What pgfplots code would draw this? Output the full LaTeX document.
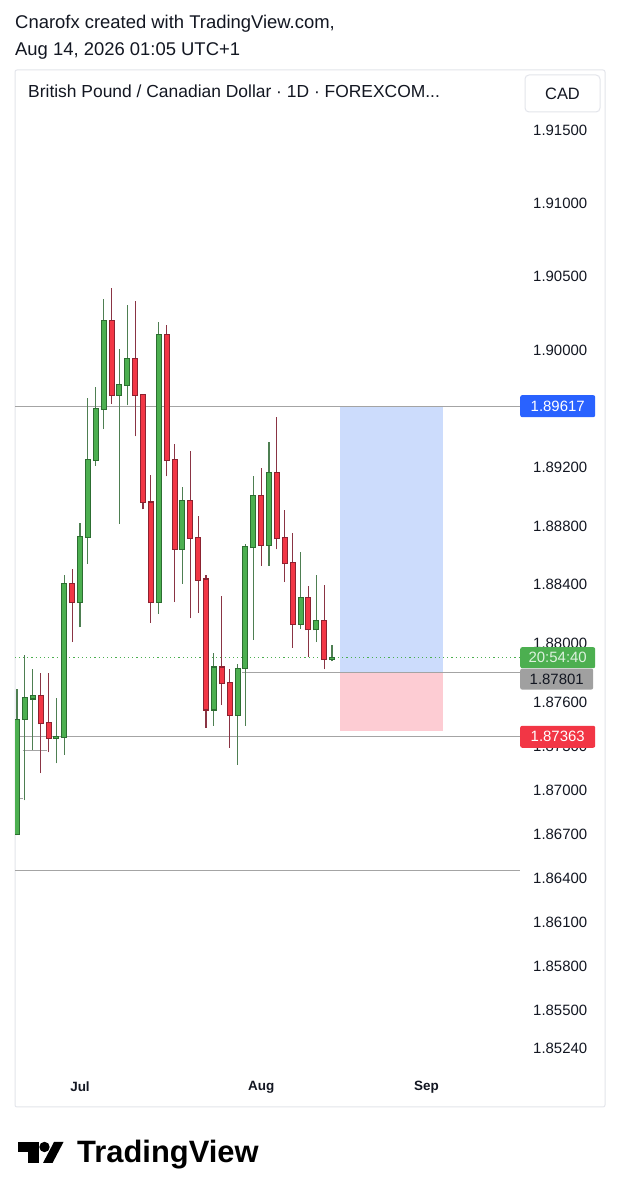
\documentclass[border=0pt]{standalone}
\usepackage{fontspec}
\setmainfont{Liberation Sans}
\usepackage{pgfplots}
\usepackage{pgfplotstable}
\pgfplotsset{compat=1.18}

\definecolor{upfill}{HTML}{4CAF50}
\definecolor{upline}{HTML}{2C6E31}
\definecolor{upwick}{HTML}{4E7F52}
\definecolor{dnfill}{HTML}{F23645}
\definecolor{dnline}{HTML}{8C2230}
\definecolor{dnwick}{HTML}{8A3444}
\definecolor{tvtext}{HTML}{131722}
\definecolor{lvl}{HTML}{A4A4A4}
\definecolor{tpblue}{HTML}{2962FF}
\definecolor{tpfill}{HTML}{CCDCFC}
\definecolor{slfill}{HTML}{FDCCD3}
\definecolor{slred}{HTML}{F23645}
\definecolor{frm}{HTML}{E3E5EB}
\definecolor{cdgray}{HTML}{A0A0A0}
\definecolor{cdtext}{HTML}{DDF2DE}

\newcommand\lblfont{\fontsize{15}{15}\selectfont}

\pgfplotstableread{
x o h l c
0 1.86700 1.87686 1.86690 1.87480
1 1.87487 1.87922 1.86929 1.87624
2 1.87624 1.87827 1.87276 1.87644
5 1.87356 1.87624 1.87182 1.87363
6 1.87363 1.88468 1.87239 1.88406
8 1.88281 1.88820 1.88108 1.88728
9 1.88728 1.89672 1.88542 1.89250
10 1.89250 1.89746 1.89212 1.89597
11 1.89597 1.90349 1.89461 1.90200
13 1.89696 1.90007 1.88815 1.89763
14 1.89763 1.90310 1.89622 1.89937
18 1.88281 1.90193 1.88200 1.90101
21 1.88646 1.89068 1.88406 1.88969
25 1.87549 1.87934 1.87437 1.87835
28 1.87512 1.87860 1.87171 1.87827
29 1.87835 1.88679 1.87437 1.88654
30 1.88654 1.89138 1.88026 1.89006
32 1.88671 1.89374 1.88530 1.89163
36 1.88133 1.88622 1.88101 1.88306
38 1.88095 1.88463 1.88008 1.88150
40 1.87892 1.87991 1.87877 1.87902
}\upbars

\pgfplotstableread{
x o h l c
3 1.87644 1.87797 1.87115 1.87455
4 1.87455 1.87797 1.87256 1.87356
7 1.88406 1.88505 1.88008 1.88281
12 1.90200 1.90424 1.89634 1.89696
15 1.89937 1.90334 1.89411 1.89696
16 1.89696 1.89700 1.88914 1.88964
17 1.88960 1.89150 1.88140 1.88281
19 1.90101 1.90168 1.89138 1.89250
20 1.89250 1.89361 1.88281 1.88646
22 1.88969 1.89312 1.88170 1.88721
23 1.88721 1.88865 1.88207 1.88435
24 1.88435 1.88468 1.87425 1.87549
26 1.87835 1.88324 1.87579 1.87728
27 1.87728 1.87822 1.87288 1.87512
31 1.89006 1.89193 1.88530 1.88671
33 1.89163 1.89540 1.88641 1.88716
34 1.88716 1.88907 1.88418 1.88547
35 1.88547 1.88753 1.87971 1.88133
37 1.88306 1.88388 1.87909 1.88095
39 1.88150 1.88398 1.87822 1.87892
}\dnbars

\pgfplotsset{
  wick/.style={draw=none, mark=none, forget plot,
    error bars/y dir=plus, error bars/y explicit, error bars/error mark=none,
    error bars/error bar style={line width=1.1bp, draw=#1, solid}},
  body/.style 2 args={draw=none, mark=none, forget plot,
    error bars/y dir=plus, error bars/y explicit, error bars/error mark=none,
    error bars/error bar style={line width=#2, draw=#1, solid}},
}

\begin{document}
\begin{tikzpicture}[x=1bp,y=1bp]
\fill[white] (0,0) rectangle (620,1200);
\path[use as bounding box] (0,0) rectangle (620,1200);

% header texts
\node[anchor=base west, inner sep=0pt, font=\fontsize{18.5}{18.5}\selectfont, text=tvtext] at (15,1171) {Cnarofx created with TradingView.com,};
\node[anchor=base west, inner sep=0pt, font=\fontsize{18.5}{18.5}\selectfont, text=tvtext] at (15,1144) {Aug 14, 2026 01:05 UTC+1};

% chart frame
\draw[frm, line width=1bp, rounded corners=2bp] (15,93) rectangle (605,1130);

\begin{axis}[
  at={(15bp,130bp)}, anchor=south west,
  width=505bp, height=1000bp, scale only axis,
  xmin=-0.254, xmax=63.87, ymin=1.85091, ymax=1.91909,
  axis line style={draw=none},
  major tick length=0pt,
  xtick={8,31,52}, xticklabels={Jul,Aug,Sep},
  ytick={1.915,1.91,1.905,1.9,1.892,1.888,1.884,1.88,1.876,1.873,1.87,1.867,1.864,1.861,1.858,1.855,1.8524},
  yticklabels={1.91500,1.91000,1.90500,1.90000,1.89200,1.88800,1.88400,1.88000,1.87600,1.87300,1.87000,1.86700,1.86400,1.86100,1.85800,1.85500,1.85240},
  yticklabel pos=right,
  yticklabel style={anchor=west, inner sep=0pt, xshift=13bp, font=\lblfont, text=tvtext},
  xticklabel style={anchor=center, inner sep=0pt, yshift=-17bp, font=\fontsize{13.5}{13.5}\selectfont\bfseries, text=tvtext},
  scaled y ticks=false,
]
% position boxes
\addplot[draw=none, fill=tpfill, forget plot] coordinates {(41,1.87801) (54.1,1.87801) (54.1,1.89617) (41,1.89617)};
\addplot[draw=none, fill=slfill, forget plot] coordinates {(41,1.87401) (54.1,1.87401) (54.1,1.87801) (41,1.87801)};
% horizontal levels
\addplot[lvl, line width=1bp, forget plot] coordinates {(-0.3,1.89617) (63.87,1.89617)};
\addplot[lvl, line width=1bp, forget plot] coordinates {(-0.3,1.87363) (63.87,1.87363)};
\addplot[lvl, line width=1bp, forget plot] coordinates {(-0.3,1.86450) (63.87,1.86450)};
\addplot[lvl, line width=1.4bp, forget plot] coordinates {(28.6,1.87801) (63.87,1.87801)};
\addplot[lvl, line width=0.8bp, forget plot] coordinates {(0.7,1.87273) (3.8,1.87273)};
\addplot[lvl, line width=0.8bp, forget plot] coordinates {(0,1.86946) (0.8,1.86946)};
% current price dotted line
\addplot[upfill, line width=1bp, dash pattern=on 1.2bp off 3bp, forget plot] coordinates {(-0.3,1.87902) (63.87,1.87902)};

% wicks
\addplot[wick=upwick] table[x=x, y=l, y error plus expr=\thisrow{h}-\thisrow{l}] {\upbars};
\addplot[wick=dnwick] table[x=x, y=l, y error plus expr=\thisrow{h}-\thisrow{l}] {\dnbars};
% bodies: outline
\addplot[body={upline}{6bp}] table[x=x, y expr=\thisrow{o}-0.00007, y error plus expr=\thisrow{c}-\thisrow{o}+0.00014] {\upbars};
\addplot[body={dnline}{6bp}] table[x=x, y expr=\thisrow{c}-0.00007, y error plus expr=\thisrow{o}-\thisrow{c}+0.00014] {\dnbars};
% bodies: fill
\addplot[body={upfill}{4bp}] table[x=x, y=o, y error plus expr=\thisrow{c}-\thisrow{o}] {\upbars};
\addplot[body={dnfill}{4bp}] table[x=x, y=c, y error plus expr=\thisrow{o}-\thisrow{c}] {\dnbars};

\coordinate (tp) at (axis cs:63.87,1.89617);
\coordinate (cur) at (axis cs:63.87,1.87902);
\coordinate (sl) at (axis cs:63.87,1.87363);
\end{axis}

% header inside chart
\node[anchor=base west, inner sep=0pt, font=\fontsize{17.5}{17.5}\selectfont, text=tvtext] at (28,1102) {British Pound / Canadian Dollar · 1D · FOREXCOM...};
\draw[frm, line width=1bp, rounded corners=4bp, fill=white] (525,1088) rectangle (600,1125);
\node[font=\fontsize{16.5}{16.5}\selectfont, text=tvtext] at (562.5,1106.5) {CAD};

% price labels
\node[fill=tpblue, text=white, rounded corners=2bp, minimum width=75bp, minimum height=22bp, inner sep=0pt, anchor=west, font=\lblfont] at (tp) {1.89617};
\node[fill=upfill, text=cdtext, rounded corners=2bp, minimum width=75bp, minimum height=21bp, inner sep=0pt, anchor=west, font=\lblfont] (g) at (cur) {20:54:40};
\node[fill=cdgray, text=tvtext, rounded corners=2bp, minimum width=73bp, minimum height=21bp, inner sep=0pt, anchor=north west, font=\lblfont] at (g.south west) {1.87801};
\node[fill=slred, text=white, rounded corners=2bp, minimum width=75bp, minimum height=22bp, inner sep=0pt, anchor=west, font=\lblfont] at (sl) {1.87363};

% TradingView logo
\fill[black] (18,58) rectangle (39,48);
\fill[black] (28,58) rectangle (39,37);
\fill[black] (44.5,53) circle (5.2);
\fill[black] (43,37) -- (52.5,37) -- (63.5,58) -- (54,58) -- cycle;
\node[anchor=base west, inner sep=0pt, font=\fontsize{31}{31}\selectfont\bfseries, text=black] at (77,37) {TradingView};
\end{tikzpicture}
\end{document}
